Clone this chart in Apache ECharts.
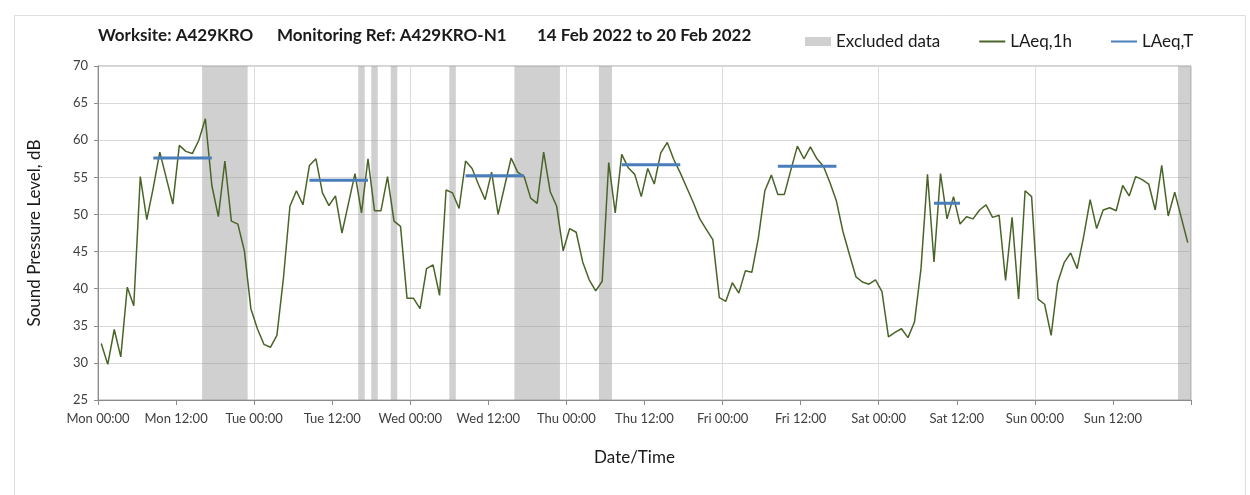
<!DOCTYPE html>
<html><head><meta charset="utf-8">
<script src="https://cdn.jsdelivr.net/npm/echarts@6/dist/echarts.min.js"></script>
<style>html,body{margin:0;padding:0;background:#fff}#c{width:1250px;height:495px}</style>
</head><body><div id="c"></div>
<script>
// Hourly LAeq,1h values (dB), Mon 00:00 .. Sun 23:00 (plotted at the middle of each hour)
const laeq1h = [
  32.6,29.8,34.5,30.8,40.2,37.7,55.1,49.3,53.6,58.4,54.9,51.4,59.3,58.5,58.2,60.0,62.9,53.9,49.7,57.2,49.1,48.7,45.1,37.3,
  34.6,32.5,32.1,33.7,41.4,51.1,53.2,51.3,56.6,57.5,52.9,51.2,52.5,47.5,51.5,55.5,50.2,57.5,50.5,50.5,55.1,49.1,48.4,38.7,
  38.7,37.3,42.7,43.2,39.1,53.3,52.9,50.8,57.2,56.2,54.0,52.0,55.7,50.0,53.8,57.6,55.7,55.1,52.2,51.5,58.4,53.1,51.1,45.1,
  48.1,47.6,43.6,41.2,39.7,41.0,57.0,50.2,58.1,56.3,55.4,52.4,56.2,54.1,58.3,59.7,57.4,55.6,53.6,51.6,49.4,48.0,46.6,38.8,
  38.3,40.8,39.4,42.4,42.2,46.8,53.2,55.3,52.7,52.7,56.0,59.2,57.5,59.1,57.5,56.5,54.3,51.8,47.7,44.6,41.6,40.9,40.6,41.2,
  39.6,33.5,34.1,34.6,33.4,35.5,42.7,55.4,43.6,55.5,49.4,52.4,48.7,49.7,49.4,50.6,51.3,49.6,49.9,41.1,49.6,38.6,53.2,52.4,
  38.6,37.9,33.7,40.8,43.5,44.8,42.7,47.0,52.0,48.1,50.6,50.9,50.5,53.9,52.5,55.1,54.7,54.1,50.6,56.6,49.8,53.0,49.6,46.2
];
// Excluded data periods (hours from Mon 00:00)
const excludedStart = [16, 40, 42, 45, 54, 64, 77, 166];
const excludedEnd   = [23, 41, 43, 46, 55, 71, 79, 168];
// LAeq,T periods (hours from Mon 00:00) and levels (dB)
const laeqTStart = [8.5, 32.5, 56.5, 80.5, 104.5, 128.5];
const laeqTEnd   = [17.5, 41.5, 65.5, 89.5, 113.5, 132.5];
const laeqTValue = [57.6, 54.6, 55.2, 56.7, 56.5, 51.5];
// Axis tick labels (every 12 h)
const xTickLabels = ['Mon 00:00','Mon 12:00','Tue 00:00','Tue 12:00','Wed 00:00','Wed 12:00','Thu 00:00','Thu 12:00',
  'Fri 00:00','Fri 12:00','Sat 00:00','Sat 12:00','Sun 00:00','Sun 12:00',''];
const yMin = 25, yMax = 70, yStep = 5;
const xMin = 0, xMax = 168;

const FONT = 'Lato';
const lineData = laeq1h.map((v, i) => [i + 0.5, v]);
const tData = [];
laeqTValue.forEach((v, k) => {
  if (k > 0) tData.push([(laeqTEnd[k-1] + laeqTStart[k]) / 2, null]);
  tData.push([laeqTStart[k], v]);
  tData.push([laeqTEnd[k], v]);
});
const bandData = excludedStart.map((s, k) => [s, excludedEnd[k]]);

const chart = echarts.init(document.getElementById('c'), null, {renderer: 'canvas'});
const titleStyle = {fontSize: 17, fontWeight: 'bold', color: '#1a1a1a', fontFamily: FONT};
chart.setOption({
  animation: false,
  textStyle: {fontFamily: FONT},
  graphic: [{type: 'rect', shape: {x: 14.5, y: 15.5, width: 1231, height: 520}, style: {fill: 'none', stroke: '#dedede', lineWidth: 1}, silent: true, z: -10}],
  title: [
    {text: 'Worksite: A429KRO', left: 98, top: 27, padding: 0, textStyle: titleStyle},
    {text: 'Monitoring Ref: A429KRO-N1', left: 277, top: 27, padding: 0, textStyle: titleStyle},
    {text: '14 Feb 2022 to 20 Feb 2022', left: 537, top: 27, padding: 0, textStyle: titleStyle}
  ],
  legend: {
    left: 805, top: 33, padding: 0, itemWidth: 26, itemHeight: 9, itemGap: 38,
    textStyle: {fontSize: 17, color: '#1a1a1a', fontFamily: FONT},
    data: [
      {name: 'Excluded data', icon: 'rect'},
      {name: 'LAeq,1h', itemStyle: {opacity: 0}},
      {name: 'LAeq,T', itemStyle: {opacity: 0}, lineStyle: {width: 2}}
    ]
  },
  grid: {left: 98, top: 66, right: 59, bottom: 95, show: true, borderColor: '#a6a6a6', borderWidth: 1, containLabel: false},
  xAxis: [
    {
      type: 'value', min: xMin, max: xMax, interval: 12,
      axisLine: {show: true, lineStyle: {color: '#8c8c8c'}},
      axisTick: {show: true, length: 5, lineStyle: {color: '#8c8c8c'}},
      splitLine: {show: false},
      axisLabel: {formatter: v => xTickLabels[Math.round(v / 12)] || '', fontSize: 13, color: '#404040', margin: 12},
      name: 'Date/Time', nameLocation: 'middle', nameGap: 49,
      nameTextStyle: {fontSize: 17, color: '#1a1a1a', padding: [0, 20, 0, 0]}
    },
    {
      type: 'value', min: xMin, max: xMax, interval: 24, position: 'top',
      axisLine: {show: false}, axisTick: {show: false}, axisLabel: {show: false},
      splitLine: {show: true, lineStyle: {color: '#dcdcdc'}}
    }
  ],
  yAxis: {
    type: 'value', min: yMin, max: yMax, interval: yStep,
    axisLine: {show: true, lineStyle: {color: '#8c8c8c'}},
    axisTick: {show: true, length: 4, lineStyle: {color: '#8c8c8c'}},
    splitLine: {show: true, lineStyle: {color: '#d9d9d9'}},
    axisLabel: {fontSize: 13, color: '#404040', margin: 10},
    name: 'Sound Pressure Level, dB', nameLocation: 'middle', nameGap: 55,
    nameTextStyle: {fontSize: 17, color: '#1a1a1a'}
  },
  series: [
    {
      name: 'Excluded data', type: 'custom', xAxisIndex: 0, silent: true, z: 1,
      itemStyle: {color: '#d0d0d0'},
      encode: {x: [0, 1]},
      data: bandData,
      renderItem: (params, api) => {
        const p0 = api.coord([api.value(0), yMax]);
        const p1 = api.coord([api.value(1), yMin]);
        return {type: 'rect', shape: {x: p0[0], y: p0[1], width: p1[0] - p0[0], height: p1[1] - p0[1]},
                style: {fill: 'rgba(150,150,150,0.45)'}};
      }
    },
    {
      name: 'LAeq,1h', type: 'line', xAxisIndex: 0, data: lineData, symbol: 'none', z: 3,
      lineStyle: {color: '#4a6428', width: 1.5}, itemStyle: {color: '#4a6428'}
    },
    {
      name: 'LAeq,T', type: 'line', xAxisIndex: 0, data: tData, symbol: 'none', connectNulls: false, z: 4,
      lineStyle: {color: '#4a7ebb', width: 3}, itemStyle: {color: '#4a7ebb'}
    }
  ]
});
</script></body></html>
